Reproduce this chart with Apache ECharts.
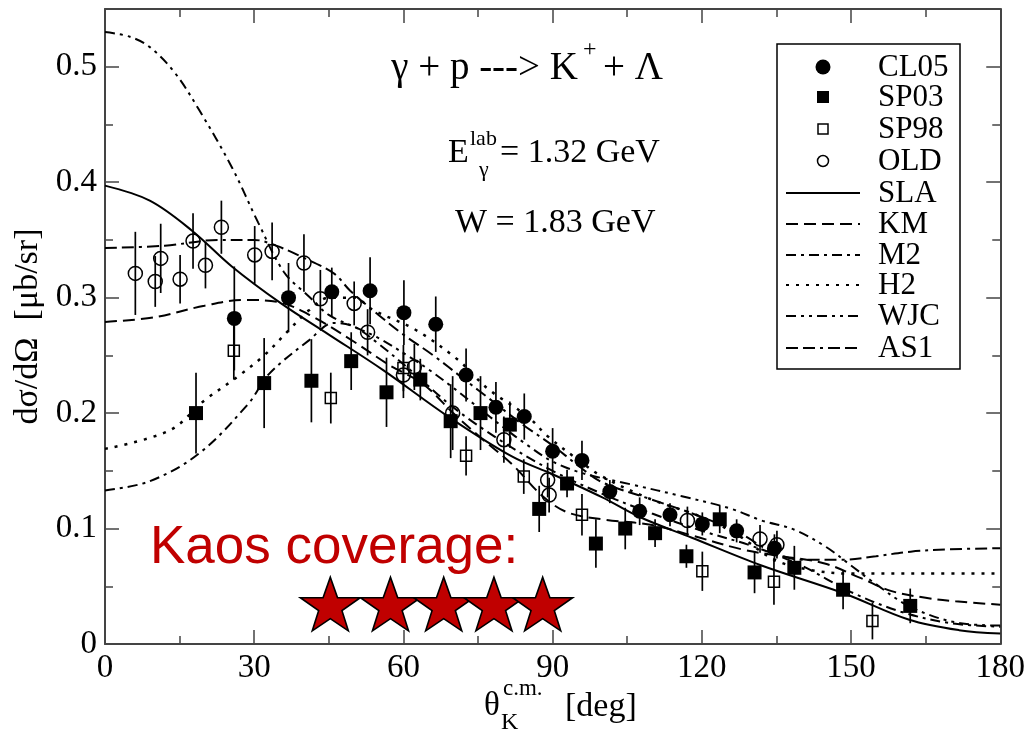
<!DOCTYPE html>
<html><head><meta charset="utf-8">
<script src="https://cdn.jsdelivr.net/npm/echarts@6/dist/echarts.min.js"></script>
<style>html,body{margin:0;padding:0;background:#fff}#c{width:1028px;height:735px}</style>
</head><body><div id="c"></div>
<script>
// ---- data: [theta (deg), dsigma/dOmega (mub/sr), error] ----
const CL05 = [[26.0,0.282,0.045],[36.9,0.300,0.030],[45.6,0.305,0.021],[53.3,0.306,0.029],[60.1,0.287,0.028],[66.5,0.277,0.024],[72.6,0.233,0.023],[78.6,0.205,0.022],[84.3,0.197,0.020],[90.0,0.167,0.020],[95.9,0.159,0.017],[101.5,0.132,0.010],[107.5,0.115,0.012],[113.6,0.112,0.010],[120.1,0.104,0.010],[127.0,0.098,0.010],[134.6,0.083,0.012]];
const SP03 = [[18.3,0.200,0.035],[32.0,0.226,0.039],[41.5,0.228,0.036],[49.5,0.245,0.025],[56.6,0.218,0.030],[63.4,0.229,0.018],[69.5,0.193,0.032],[75.5,0.200,0.032],[81.4,0.190,0.020],[87.3,0.117,0.020],[92.9,0.139,0.012],[98.7,0.087,0.021],[104.6,0.100,0.018],[110.6,0.096,0.012],[116.9,0.076,0.010],[123.6,0.108,0.012],[130.6,0.062,0.018],[138.6,0.066,0.019],[148.4,0.047,0.017],[161.9,0.033,0.015]];
const SP98 = [[25.9,0.254,0.025],[45.4,0.213,0.022],[60.0,0.239,0.020],[72.6,0.163,0.017],[84.2,0.145,0.015],[95.9,0.112,0.018],[120.1,0.063,0.017],[134.5,0.054,0.020],[154.3,0.020,0.016]];
const OLD = [[6.1,0.321,0.036],[10.1,0.314,0.022],[11.2,0.334,0.030],[15.1,0.316,0.021],[17.7,0.349,0.024],[20.2,0.328,0.020],[23.4,0.361,0.023],[30.1,0.337,0.025],[33.6,0.340,0.025],[40.0,0.330,0.025],[43.3,0.299,0.025],[50.1,0.295,0.019],[52.8,0.270,0.020],[60.0,0.233,0.020],[62.2,0.240,0.020],[69.9,0.200,0.032],[80.2,0.177,0.020],[89.0,0.142,0.015],[89.3,0.129,0.015],[117.1,0.107,0.012],[131.7,0.091,0.012],[135.1,0.086,0.012]];

// ---- model curves: [theta, dsigma/dOmega] ----
const SLA = [[0,0.397],[9,0.384],[17.5,0.358],[25.5,0.327],[35.4,0.295],[45,0.268],[56,0.237],[69,0.197],[82,0.162],[90,0.147],[100,0.127],[107.5,0.110],[118,0.092],[132,0.068],[148.5,0.044],[161.7,0.021],[171.7,0.012],[180,0.009]];
const KM = [[0,0.279],[10,0.283],[20,0.293],[28,0.298],[35,0.296],[42,0.283],[50,0.262],[57,0.242],[64,0.225],[70,0.200],[76,0.177],[82,0.155],[88,0.128],[93,0.114],[100,0.108],[110,0.103],[118,0.094],[128,0.082],[136,0.076],[144.5,0.070],[152,0.057],[158,0.046],[165,0.040],[171,0.037],[180,0.034]];
const M2 = [[0,0.133],[9,0.141],[18.9,0.165],[28.8,0.208],[33,0.234],[41,0.263],[46,0.278],[50,0.275],[55,0.260],[62,0.235],[70,0.205],[80,0.175],[90,0.150],[100,0.130],[110,0.113],[120,0.098],[130,0.085],[140,0.068],[150,0.045],[160,0.028],[170,0.018],[180,0.015]];
const H2 = [[0,0.169],[13,0.185],[20,0.211],[26.5,0.231],[32,0.250],[37,0.272],[41,0.289],[45,0.300],[50,0.300],[54,0.289],[62.5,0.272],[71,0.246],[77,0.221],[85,0.197],[89,0.180],[95,0.160],[100,0.145],[110,0.125],[120,0.110],[127,0.095],[134.6,0.073],[142,0.064],[150,0.061],[165,0.061],[180,0.061]];
const WJC = [[0,0.530],[5,0.526],[9,0.517],[14,0.495],[19,0.462],[25.5,0.413],[30.8,0.365],[36,0.322],[41,0.301],[45,0.285],[50,0.275],[55,0.265],[60,0.252],[65,0.238],[70,0.222],[75,0.205],[80,0.188],[85,0.172],[90,0.158],[96,0.148],[106,0.138],[116,0.128],[126,0.117],[132,0.107],[138.6,0.099],[145,0.084],[150,0.068],[154,0.055],[162,0.032],[172,0.018],[180,0.016]];
const AS1 = [[0,0.343],[12,0.345],[23,0.350],[30,0.350],[34.4,0.345],[39.7,0.335],[46,0.321],[49.3,0.306],[55,0.285],[60,0.268],[66,0.250],[72,0.230],[78,0.210],[84,0.190],[90,0.172],[95,0.155],[100,0.140],[110,0.125],[120,0.110],[128,0.095],[134,0.080],[140,0.073],[148,0.073],[155,0.076],[162,0.080],[170,0.082],[180,0.083]];

// Kaos coverage stars (angle positions) and their height
const kaosStars = [45.3,57.4,68.1,78.2,88.0];
const kaosStarLevel = 0.0346;

const xTicks = [0,30,60,90,120,150,180];
const yTicks = [0,0.1,0.2,0.3,0.4,0.5];

const SERIF = '"Liberation Serif","Times New Roman",serif';
const chart = echarts.init(document.getElementById('c'));

function errBars(arr){
  return {type:'custom', silent:true, z:3, data:arr, encode:{x:0,y:1},
    renderItem:(params, api)=>{
      const x=api.value(0), y=api.value(1), e=api.value(2);
      const a=api.coord([x,y-e]), b=api.coord([x,y+e]);
      return {type:'line', shape:{x1:a[0],y1:a[1],x2:b[0],y2:b[1]}, style:{stroke:'#000', lineWidth:1.7}};
    }};
}
function curve(name, arr, dash, w){
  return {name, type:'line', data:arr, symbol:'none', smooth:0.35, z:2, silent:true,
    lineStyle:{color:'#000', width:w||2, type:dash, cap:'butt'}};
}
const STAR='path://M50,0 L61.8,35.1 L98.9,35.1 L69,57.3 L79.4,91.9 L50,71 L20.6,91.9 L31,57.3 L1.1,35.1 L38.2,35.1 Z';

const axisCommon = {
  type:'value', min:0, max:180, interval:30,
  axisLine:{show:true, onZero:false, lineStyle:{color:'#444', width:2}},
  axisTick:{show:true, inside:true, length:14, lineStyle:{color:'#444', width:1.5}},
  minorTick:{show:true, splitNumber:2, length:8, lineStyle:{color:'#444', width:1.5}},
  splitLine:{show:false}
};
const yCommon = {
  type:'value', min:0, max:0.55, interval:0.1,
  axisLine:{show:true, onZero:false, lineStyle:{color:'#444', width:2}},
  axisTick:{show:true, inside:true, length:14, lineStyle:{color:'#444', width:1.5}},
  minorTick:{show:true, splitNumber:2, length:8, lineStyle:{color:'#444', width:1.5}},
  splitLine:{show:false}
};

// legend (drawn as graphic annotation)
const legendItems = [
  {name:'CL05', kind:'circle'}, {name:'SP03', kind:'square'}, {name:'SP98', kind:'osquare'}, {name:'OLD', kind:'ocircle'},
  {name:'SLA', dash:'solid'}, {name:'KM', dash:[12,6]}, {name:'M2', dash:[10,5,3,5]}, {name:'H2', dash:[3,7]},
  {name:'WJC', dash:[10,5,3,5,3,5]}, {name:'AS1', dash:[12,5,12,5,3,5]}
];
const legendY = [67,97,129,161,193,224,255,285,316,348];
const legendGraphics = [{type:'rect', shape:{x:777,y:44,width:183,height:325}, style:{fill:'#fff', stroke:'#000', lineWidth:1.5}, z:10}];
legendItems.forEach((it,i)=>{
  const y = legendY[i];
  if(it.kind==='circle') legendGraphics.push({type:'circle', shape:{cx:823,cy:y,r:7.5}, style:{fill:'#000'}, z:11});
  else if(it.kind==='square') legendGraphics.push({type:'rect', shape:{x:817,y:y-6,width:12,height:12}, style:{fill:'#000'}, z:11});
  else if(it.kind==='osquare') legendGraphics.push({type:'rect', shape:{x:818,y:y-5,width:10,height:10}, style:{fill:'none', stroke:'#000', lineWidth:1.5}, z:11});
  else if(it.kind==='ocircle') legendGraphics.push({type:'circle', shape:{cx:823,cy:y,r:5.5}, style:{fill:'none', stroke:'#000', lineWidth:1.5}, z:11});
  else legendGraphics.push({type:'line', shape:{x1:786,y1:y,x2:860,y2:y}, style:{stroke:'#000', lineWidth:2, lineDash: it.dash==='solid'?null:it.dash}, z:11});
  legendGraphics.push({type:'text', x:878, y:y+1, style:{text:it.name, font:'31px '+SERIF, fill:'#000', verticalAlign:'middle', align:'left'}, z:11});
});

// text placed by baseline
const T = (x,b,text,size,align)=>({type:'text', x, y:b-0.34*size, z:12,
  style:{text, font:size+'px '+SERIF, fill:'#000', align:align||'left', verticalAlign:'middle'}});

const option = {
  backgroundColor:'#fff',
  animation:false,
  grid:{left:105, right:16, top:9, bottom:91, containLabel:false},
  xAxis:[
    Object.assign({}, axisCommon, {position:'bottom',
      axisLabel:{show:true, margin:8, color:'#000', fontSize:33, fontFamily:SERIF, formatter:v=>xTicks.includes(v)?String(v):''}}),
    Object.assign({}, axisCommon, {position:'top', axisLabel:{show:false}})
  ],
  yAxis:[
    Object.assign({}, yCommon, {position:'left',
      axisLabel:{show:true, margin:8, color:'#000', fontSize:33, fontFamily:SERIF, showMaxLabel:false,
        formatter:v=>{const r=Math.round(v*10)/10; return yTicks.includes(r)? (r===0?'0':r.toFixed(1)) : '';}},
      name:'dσ/dΩ  [μb/sr]', nameLocation:'middle', nameRotate:90, nameGap:60,
      nameTextStyle:{fontSize:34, fontFamily:SERIF, color:'#000'}}),
    Object.assign({}, yCommon, {position:'right', axisLabel:{show:false}})
  ],
  series:[
    curve('SLA', SLA, 'solid', 2),
    curve('KM', KM, [12,6], 2),
    curve('M2', M2, [10,5,3,5], 2),
    curve('H2', H2, [3,7], 2.5),
    curve('WJC', WJC, [10,5,3,5,3,5], 2),
    curve('AS1', AS1, [12,5,12,5,3,5], 2),
    errBars(CL05), errBars(SP03), errBars(SP98), errBars(OLD),
    {name:'CL05', type:'scatter', data:CL05, symbol:'circle', symbolSize:15, z:4, itemStyle:{color:'#000', opacity:1}},
    {name:'SP03', type:'scatter', data:SP03, symbol:'rect', symbolSize:14, z:4, itemStyle:{color:'#000', opacity:1}},
    {name:'SP98', type:'scatter', data:SP98, symbol:'rect', symbolSize:11, z:4, itemStyle:{color:'rgba(0,0,0,0)', borderColor:'#000', borderWidth:1.5, opacity:1}},
    {name:'OLD', type:'scatter', data:OLD, symbol:'circle', symbolSize:14, z:4, itemStyle:{color:'rgba(0,0,0,0)', borderColor:'#000', borderWidth:1.5, opacity:1}},
    {name:'Kaos', type:'scatter', data:kaosStars.map(t=>[t,kaosStarLevel]), symbol:STAR, symbolKeepAspect:true, symbolSize:[60,57], z:6,
      itemStyle:{color:'#c00000', borderColor:'#000', borderWidth:1.6, opacity:1}}
  ],
  graphic: legendGraphics.concat([
    // reaction title
    T(578,82,'γ + p ---> K',39,'right'),
    T(583,58,'+',24,'left'),
    T(603,82,'+ Λ',39,'left'),
    // photon energy
    T(448,165,'E',34,'left'),
    T(470,147,'lab',22,'left'),
    T(479,178,'γ',22,'left'),
    T(500,165,'= 1.32 GeV',34,'left'),
    T(455,235,'W = 1.83 GeV',34,'left'),
    // x axis title
    T(484,718,'θ',33,'left'),
    T(503,697,'c.m.',23,'left'),
    T(501,731,'K',24,'left'),
    T(565,719,'[deg]',34,'left'),
    // Kaos annotation
    {type:'text', x:150, y:567-0.35*53, z:12, style:{text:'Kaos coverage:', font:'53px "Liberation Sans",Arial,sans-serif', fill:'#c00000', align:'left', verticalAlign:'middle'}}
  ])
};
chart.setOption(option);
</script>
</body></html>
